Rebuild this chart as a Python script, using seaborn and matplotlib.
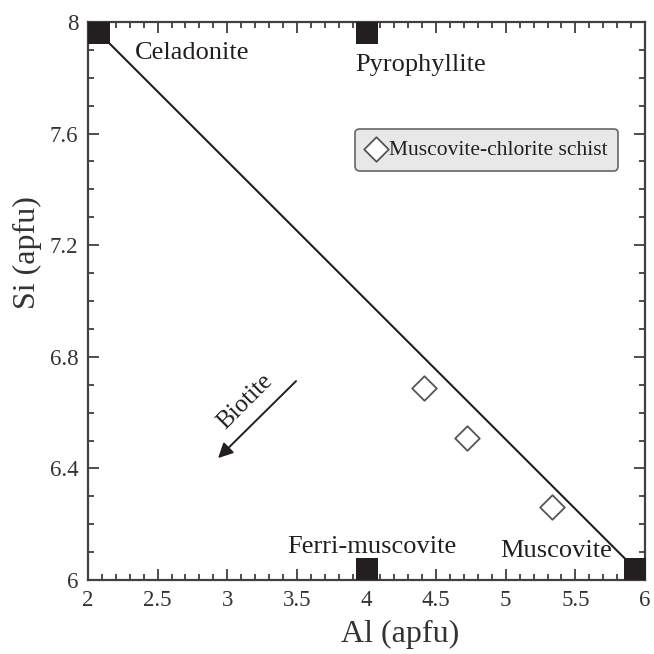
import matplotlib
matplotlib.use("Agg")
import matplotlib.pyplot as plt
from matplotlib.ticker import MultipleLocator
import seaborn as sns
import pandas as pd

# End-member compositions (square markers)
end_names = ["Celadonite", "Pyrophyllite", "Ferri-muscovite", "Muscovite"]
end_al = [2.08, 4.0, 4.0, 5.93]
end_si = [7.96, 7.96, 6.04, 6.04]

# Celadonite–muscovite join
join_al = [2.08, 5.93]
join_si = [7.96, 6.04]

# Muscovite-chlorite schist samples
sample_al = [4.41, 4.72, 5.33]
sample_si = [6.69, 6.51, 6.26]

x_ticks = [2, 2.5, 3, 3.5, 4, 4.5, 5, 5.5, 6]
x_labels = ["2", "2.5", "3", "3.5", "4", "4.5", "5", "5.5", "6"]
y_ticks = [6, 6.4, 6.8, 7.2, 7.6, 8]
y_labels = ["6", "6.4", "6.8", "7.2", "7.6", "8"]

sns.set_theme(style="ticks")
plt.rcParams["font.family"] = ["Liberation Serif", "DejaVu Serif"]
plt.rcParams["mathtext.fontset"] = "stix"

ink = "#231f20"
axc = "#404040"

fig = plt.figure(figsize=(6.54, 6.54), dpi=100)
ax = fig.add_axes([0.1346, 0.1131, 0.8516, 0.8533])

ends = pd.DataFrame({"Al": end_al, "Si": end_si, "name": end_names})
join = pd.DataFrame({"Al": join_al, "Si": join_si})
samples = pd.DataFrame({"Al": sample_al, "Si": sample_si})

sns.lineplot(data=join, x="Al", y="Si", ax=ax, color=ink, linewidth=1.5,
             sort=False, legend=False, zorder=2)
sns.scatterplot(data=ends, x="Al", y="Si", ax=ax, marker="s", s=15.5**2,
                color=ink, edgecolor=ink, linewidth=0, zorder=3, legend=False)
sns.scatterplot(data=samples, x="Al", y="Si", ax=ax, marker="D", s=12.5**2,
                facecolor="white", edgecolor="#555555", linewidth=1.3,
                zorder=4, label="Muscovite-chlorite schist")

ax.set_xlim(2, 6)
ax.set_ylim(6, 8)
ax.set_xticks(x_ticks)
ax.set_xticklabels(x_labels)
ax.set_yticks(y_ticks)
ax.set_yticklabels(y_labels)
ax.xaxis.set_minor_locator(MultipleLocator(0.1))
ax.yaxis.set_minor_locator(MultipleLocator(0.1))
ax.tick_params(which="both", direction="in", top=True, right=True,
               color=axc, width=1.3, labelcolor="#333333", labelsize=16.5)
ax.tick_params(which="major", length=8, pad=7)
ax.tick_params(which="minor", length=4)
for sp in ax.spines.values():
    sp.set_color(axc)
    sp.set_linewidth(1.6)

ax.set_xlabel("Al (apfu)", fontsize=23, color="#333333")
ax.set_ylabel("Si (apfu)", fontsize=23, color="#333333")
ax.xaxis.set_label_coords(0.56, -0.071)
ax.yaxis.set_label_coords(-0.082, 0.586)

# End-member labels
label_pos = {
    "Celadonite": (2.338, 7.867),
    "Pyrophyllite": (3.917, 7.824),
    "Ferri-muscovite": (3.429, 6.097),
    "Muscovite": (4.959, 6.082),
}
for name in end_names:
    lx, ly = label_pos[name]
    ax.text(lx, ly, name, fontsize=19, color=ink, ha="left", va="baseline")

# Biotite arrow
ax.annotate("", xy=(2.934, 6.437), xytext=(3.494, 6.713),
            arrowprops=dict(arrowstyle="-|>", color=ink, lw=1.4,
                            mutation_scale=22, shrinkA=0, shrinkB=0))
ax.text(3.127, 6.638, "Biotite", fontsize=18, color=ink, rotation=45,
        ha="center", va="center", rotation_mode="anchor")

leg = ax.legend(loc="center", bbox_to_anchor=(0.716, 0.771), fontsize=15.5,
                frameon=True, fancybox=True, handlelength=0.9,
                handletextpad=0.15, borderpad=0.5, borderaxespad=0)
leg.get_frame().set_facecolor("#e8e8e8")
leg.get_frame().set_edgecolor("#666666")
leg.get_frame().set_linewidth(1.2)
leg.get_frame().set_alpha(1)
for t in leg.get_texts():
    t.set_color(ink)

fig.savefig("out.png", dpi=100)
